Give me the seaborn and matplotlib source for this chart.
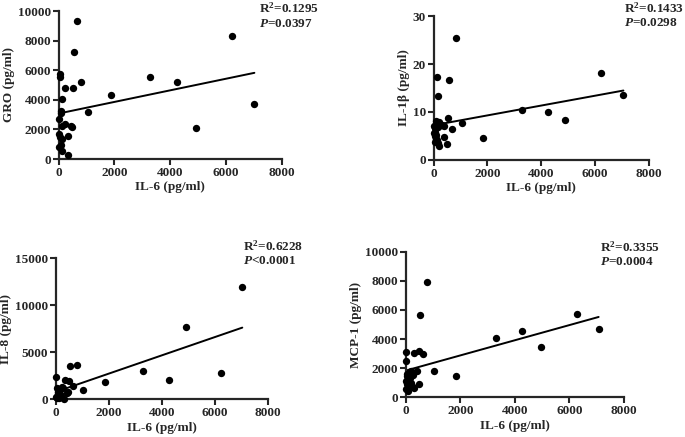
import matplotlib
matplotlib.use("Agg")
import matplotlib.pyplot as plt
import seaborn as sns
import pandas as pd

# ---- data ----
il6_gro = [670, 550, 6230, 50, 50, 790, 230, 500, 3290, 4260, 1870, 120, 1040, 85, 85, 25,
           4920, 7020, 230, 110, 440, 470, 25, 50, 320, 130, 70, 25, 110, 335]
gro = [9350, 7200, 8300, 5740, 5520, 5180, 4770, 4770, 5520, 5180, 4300, 4080, 3180, 3240, 3090, 2730,
       2120, 3690, 2340, 2230, 2250, 2140, 1690, 1510, 1550, 1330, 950, 810, 560, 250]

il6_il1b = [820, 125, 570, 160, 6230, 7050, 3280, 4260, 4900, 1850, 1067, 695, 535, 100, 30, 50,
            200, 300, 380, 60, 80, 150, 250, 30, 40, 380, 120, 170, 500, 210, 40, 100]
il1b = [25.4, 17.2, 16.7, 13.3, 18.1, 13.5, 10.4, 10.1, 8.3, 4.65, 7.8, 6.4, 8.7, 8.1, 7.0, 6.6,
        7.9, 7.3, 7.0, 5.8, 5.3, 6.9, 7.2, 5.6, 4.9, 4.8, 4.2, 3.6, 3.3, 3.0, 3.8, 4.4]

il6_il8 = [7020, 4890, 3290, 4250, 6210, 1850, 1030, 780, 530, 0, 340, 490, 630, 210, 20, 130,
           460, 400, 80, 200, 0, 120, 300, 40, 60, 150, 250]
il8 = [11915, 7660, 3010, 2020, 2800, 1840, 960, 3620, 3550, 2380, 2090, 1910, 1450, 1350, 1170, 990,
       815, 640, 570, 390, 280, 180, 35, 100, 800, 600, 1200]

il6_mcp1 = [790, 525, 6260, 7070, 4270, 3300, 4950, 1860, 1040, 25, 25, 305, 490, 650, 430, 475,
            305, 100, 10, 200, 120, 60, 30, 250, 150, 80, 20, 180, 50, 220]
mcp1 = [7920, 5630, 5720, 4710, 4580, 4100, 3430, 1490, 1785, 3110, 2490, 3070, 3200, 2950, 1785, 915,
        660, 410, 550, 1800, 1700, 1600, 1450, 1500, 1300, 1200, 1100, 1000, 900, 800]

xlabel = "IL-6 (pg/ml)"
ylabels = ["GRO (pg/ml)", "IL-1β (pg/ml)", "IL-8 (pg/ml)", "MCP-1 (pg/ml)"]
r2_texts = ["0.1295", "0.1433", "0.6228", "0.3355"]
p_texts = ["=0.0397", "=0.0298", "<0.0001", "=0.0004"]
x_ticks = [0, 2000, 4000, 6000, 8000]
y_ticks = [[0, 2000, 4000, 6000, 8000, 10000], [0, 10, 20, 30],
           [0, 5000, 10000, 15000], [0, 2000, 4000, 6000, 8000, 10000]]

# ---- style ----
sns.set_style("ticks")
plt.rcParams["font.family"] = ["Liberation Serif", "DejaVu Serif"]
plt.rcParams["font.weight"] = "bold"
plt.rcParams["mathtext.fontset"] = "custom"
plt.rcParams["mathtext.rm"] = "Liberation Serif:bold"
plt.rcParams["mathtext.bf"] = "Liberation Serif:bold"
plt.rcParams["mathtext.it"] = "Liberation Serif:italic:bold"
plt.rcParams["mathtext.bfit"] = "Liberation Serif:italic:bold"

W, H = 685, 437
fig = plt.figure(figsize=(W / 100, H / 100), dpi=100)

# axes boxes in pixels: (x0, x_at_max, y0_pix, y_at_max_pix)
boxes = [(58.7, 281.7, 159.0, 11.0),
         (433.5, 649.0, 160.0, 16.0),
         (56.0, 268.3, 399.3, 258.3),
         (405.7, 624.0, 397.3, 251.7)]
text_pos = [(259, 8, 24), (624, 8, 23), (243, 246.5, 261), (600.5, 247.3, 262.3)]

datasets = [(il6_gro, gro), (il6_il1b, il1b), (il6_il8, il8), (il6_mcp1, mcp1)]

for i, ((xs, ys), box) in enumerate(zip(datasets, boxes)):
    x0, x1, y0, y1 = box
    ax = fig.add_axes([x0 / W, (H - y0) / H, (x1 - x0) / W, (y0 - y1) / H])
    df = pd.DataFrame({"IL6": xs, "Y": ys})
    sns.regplot(data=df, x="IL6", y="Y", ax=ax, ci=None, color="black",
                scatter_kws=dict(s=28, clip_on=False, linewidths=0, zorder=3, alpha=1),
                line_kws=dict(lw=1.4))
    ax.set_xlim(0, 8000)
    ax.set_ylim(0, y_ticks[i][-1])
    ax.set_xticks(x_ticks)
    ax.set_yticks(y_ticks[i])
    ax.tick_params(direction="out", length=4, width=1.5, labelsize=9.5, pad=1.5)
    for lab in ax.get_xticklabels() + ax.get_yticklabels():
        lab.set_fontweight("bold")
    for s in ["left", "bottom"]:
        ax.spines[s].set_linewidth(1.6)
    sns.despine(ax=ax)
    ax.set_xlabel(xlabel, fontsize=9.5, fontweight="bold", labelpad=2)
    ax.set_ylabel(ylabels[i], fontsize=9.5, fontweight="bold", labelpad=2)

    tx, ty1, ty2 = text_pos[i]
    fig.text(tx / W, 1 - ty1 / H, r"R$^{\mathbf{2}}$=" + r2_texts[i], fontsize=9.5,
             fontweight="bold", ha="left", va="center")
    fig.text(tx / W, 1 - ty2 / H, r"$\mathbfit{P}$" + p_texts[i], fontsize=9.5,
             fontweight="bold", ha="left", va="center")

fig.savefig("out.png", dpi=100)
